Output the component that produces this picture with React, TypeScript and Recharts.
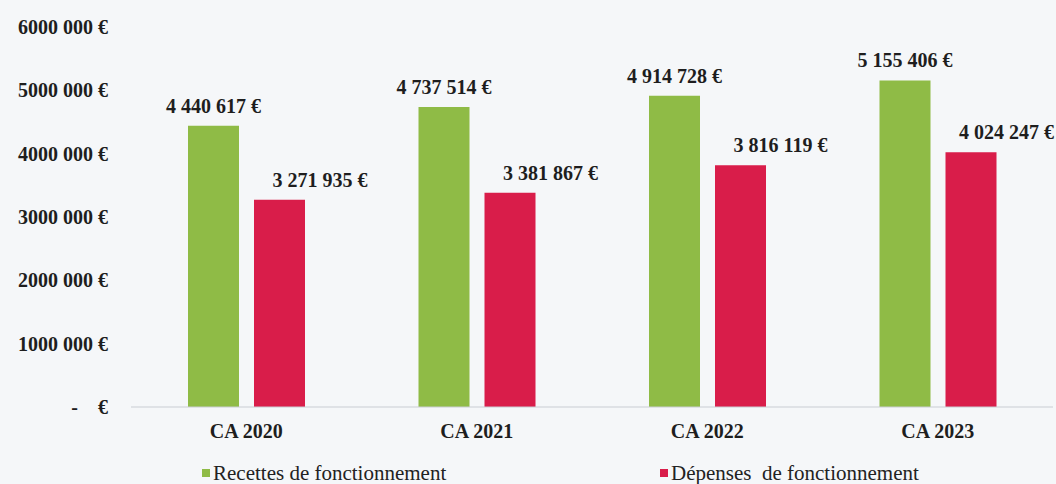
import { BarChart, Bar, XAxis, YAxis, Legend, LabelList } from "recharts";

const categories = ["CA 2020", "CA 2021", "CA 2022", "CA 2023"];
const recettes = [4440617, 4737514, 4914728, 5155406];
const depenses = [3271935, 3381867, 3816119, 4024247];
const yTicks = [0, 1000000, 2000000, 3000000, 4000000, 5000000, 6000000];
const yTickLabels = ["-\u00a0\u00a0\u00a0\u00a0€", "1000 000 €", "2000 000 €", "3000 000 €", "4000 000 €", "5000 000 €", "6000 000 €"];

const GREEN = "#8fbb46";
const RED = "#d91d4a";
const FONT = "'Liberation Serif', serif";
const RECETTES = "Recettes de fonctionnement";
const DEPENSES = "Dépenses  de fonctionnement";
const CHART_W = 1056;

const data = categories.map((name, i) => ({
  name,
  recettes: recettes[i],
  depenses: depenses[i],
}));

const fmt = (n: number) =>
  String(n).replace(/\B(?=(\d{3})+(?!\d))/g, " ") + " €";

function ValueLabel(props: any) {
  const { x, y, width, value, anchor } = props;
  const cx = x + width / 2;
  let tx = anchor === "start" ? cx - 7 : cx;
  let ta = anchor;
  // keep the last red label inside the picture
  if (anchor === "start" && tx + 100 > CHART_W - 2) {
    tx = CHART_W - 2;
    ta = "end";
  }
  return (
    <text
      x={tx}
      y={y - 13}
      textAnchor={ta}
      fontFamily={FONT}
      fontWeight="bold"
      fontSize={20}
      fill="#1e1e1e"
    >
      {fmt(value)}
    </text>
  );
}

const legendX: Record<string, number> = { [RECETTES]: 202, [DEPENSES]: 660 };

function LegendBox({ payload }: any) {
  return (
    <div style={{ position: "relative", height: 37, width: CHART_W }}>
      {(payload || []).map((p: any) => (
        <div
          key={p.value}
          style={{
            position: "absolute",
            left: legendX[p.value],
            top: 15,
            display: "flex",
            alignItems: "center",
            fontFamily: FONT,
            fontSize: 21,
            color: "#222",
            lineHeight: "22px",
            whiteSpace: "pre",
          }}
        >
          <span
            style={{
              display: "inline-block",
              width: 8,
              height: 8,
              background: p.color,
              marginRight: 3,
            }}
          />
          {p.value}
        </div>
      ))}
    </div>
  );
}

export default function App() {
  return (
    <div
      style={{
        position: "absolute",
        left: 0,
        top: 0,
        width: CHART_W,
        height: 484,
        background: "#f5f7f9",
      }}
    >
      <BarChart
        width={CHART_W}
        height={484}
        data={data}
        margin={{ top: 27, right: 3, bottom: 0, left: 0 }}
        barSize={51}
        barGap={15}
      >
        <XAxis
          dataKey="name"
          axisLine={{ stroke: "#c9cdd3" }}
          tickLine={false}
          tickMargin={11}
          height={40}
          tick={{ fontFamily: FONT, fontWeight: "bold", fontSize: 20, fill: "#1e1e1e" }}
        />
        <YAxis
          width={131}
          domain={[0, 6000000]}
          ticks={yTicks}
          axisLine={false}
          tickLine={false}
          tickMargin={17}
          tickFormatter={(v: number) => yTickLabels[yTicks.indexOf(v)]}
          tick={{ fontFamily: FONT, fontWeight: "bold", fontSize: 20, fill: "#1e1e1e" }}
        />
        <Legend
          verticalAlign="bottom"
          content={<LegendBox />}
          wrapperStyle={{ left: 0, width: CHART_W }}
        />
        <Bar dataKey="recettes" name={RECETTES} fill={GREEN} isAnimationActive={false}>
          <LabelList dataKey="recettes" content={<ValueLabel anchor="middle" />} />
        </Bar>
        <Bar dataKey="depenses" name={DEPENSES} fill={RED} isAnimationActive={false}>
          <LabelList dataKey="depenses" content={<ValueLabel anchor="start" />} />
        </Bar>
      </BarChart>
    </div>
  );
}
